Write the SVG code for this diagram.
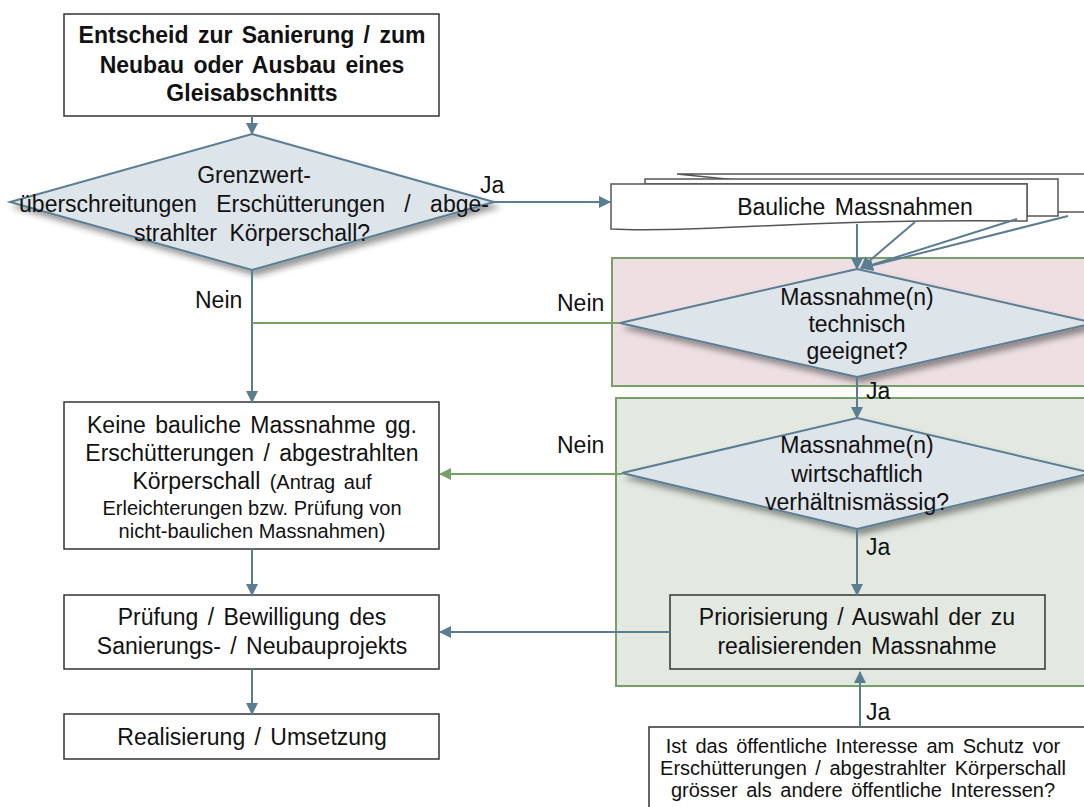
<svg xmlns="http://www.w3.org/2000/svg" width="1084" height="807" viewBox="0 0 1084 807">
<style>
text{font-family:"Liberation Sans",Arial,sans-serif;fill:#111;text-anchor:middle}
.b{font-weight:bold;font-size:23px;word-spacing:3px}
.m{font-size:23px;word-spacing:3px}
.s{font-size:20px}
.q{font-size:20px;word-spacing:3px}
.l{font-size:23px;text-anchor:start}
.box{fill:#fff;stroke:#333;stroke-width:1.5}
.dia{fill:#dde4ea;stroke:#5b7d92;stroke-width:2;filter:url(#sh)}
.ar{stroke:#5b7d92;stroke-width:2;fill:none;marker-end:url(#ab)}
.ln{stroke:#5b7d92;stroke-width:2;fill:none}
.gr{stroke:#76a068;stroke-width:2;fill:none}
.doc{fill:#fff;stroke:#555;stroke-width:1.5}
</style>
<defs>
<marker id="ab" viewBox="0 0 12 12" refX="11" refY="6" markerWidth="12" markerHeight="12" markerUnits="userSpaceOnUse" orient="auto">
<path d="M0,0 L12,6 L0,12 Z" fill="#5b7d92"/>
</marker>
<marker id="ag" viewBox="0 0 12 12" refX="11" refY="6" markerWidth="12" markerHeight="12" markerUnits="userSpaceOnUse" orient="auto">
<path d="M0,0 L12,6 L0,12 Z" fill="#76a068"/>
</marker>
<filter id="sh" x="-10%" y="-20%" width="130%" height="150%">
<feDropShadow dx="4" dy="5" stdDeviation="3" flood-color="#000" flood-opacity="0.4"/>
</filter>
</defs>

<g id="bg-technisch">
<rect x="612" y="258" width="480" height="128" fill="#eedfe3" stroke="#76a068" stroke-width="2"/>
</g>
<g id="bg-wirtschaftlich">
<rect x="616" y="398" width="476" height="288" fill="#e3e9e1" stroke="#76a068" stroke-width="2"/>
</g>

<g id="n-start">
<rect class="box" x="64" y="14" width="375" height="102"/>
<text class="b" x="252" y="43">Entscheid zur Sanierung / zum</text>
<text class="b" x="252" y="73">Neubau oder Ausbau eines</text>
<text class="b" x="252" y="101">Gleisabschnitts</text>
</g>

<g id="n-grenzwert">
<polygon class="dia" points="252,134 494,202 252,270 10,202"/>
<text class="m" x="254" y="183">Grenzwert-</text>
<text class="m" x="254" y="212" style="word-spacing:13px">überschreitungen Erschütterungen / abge-</text>
<text class="m" x="252" y="241" style="word-spacing:6px">strahlter Körperschall?</text>
</g>

<g id="n-bauliche">
<path class="doc" d="M677,174 H1092 V212 H1058 Z"/>
<path class="doc" d="M645,179 H1058 V216 H1027 V184 H645 Z"/>
<path class="doc" d="M611,184 H1027 V221 C930,220 840,222 760,226 C700,229 650,231 611,229 Z"/>
<text class="m" x="855" y="215">Bauliche Massnahmen</text>
</g>

<g id="n-technisch">
<polygon class="dia" points="857,269 1094,323 857,377 620,323"/>
<text class="m" x="857" y="305">Massnahme(n)</text>
<text class="m" x="857" y="332">technisch</text>
<text class="m" x="857" y="359">geeignet?</text>
</g>

<g id="n-wirtschaftlich">
<polygon class="dia" points="857,418 1092,473 857,529 622,473"/>
<text class="m" x="857" y="453">Massnahme(n)</text>
<text class="m" x="857" y="482">wirtschaftlich</text>
<text class="m" x="857" y="510">verhältnismässig?</text>
</g>

<g id="n-priorisierung">
<rect x="670" y="595" width="375" height="74" fill="#e3e9e1" stroke="#333" stroke-width="1.5"/>
<text class="m" x="857" y="625">Priorisierung / Auswahl der zu</text>
<text class="m" x="857" y="654">realisierenden Massnahme</text>
</g>

<g id="n-keine">
<rect class="box" x="64" y="402" width="375" height="147"/>
<text class="m" x="252" y="433">Keine bauliche Massnahme gg.</text>
<text class="m" x="252" y="461">Erschütterungen / abgestrahlten</text>
<text class="m" x="252" y="489">Körperschall <tspan class="s">(Antrag auf</tspan></text>
<text class="s" x="252" y="515">Erleichterungen bzw. Prüfung von</text>
<text class="s" x="252" y="538">nicht-baulichen Massnahmen)</text>
</g>

<g id="n-pruefung">
<rect class="box" x="64" y="595" width="375" height="74"/>
<text class="m" x="252" y="625">Prüfung / Bewilligung des</text>
<text class="m" x="252" y="654">Sanierungs- / Neubauprojekts</text>
</g>

<g id="n-realisierung">
<rect class="box" x="64" y="714" width="375" height="45"/>
<text class="m" x="252" y="745">Realisierung / Umsetzung</text>
</g>

<g id="n-interesse">
<rect class="box" x="649" y="727" width="445" height="100"/>
<text class="q" x="863" y="753">Ist das öffentliche Interesse am Schutz vor</text>
<text class="q" x="863" y="775">Erschütterungen / abgestrahlter Körperschall</text>
<text class="q" x="863" y="797">grösser als andere öffentliche Interessen?</text>
</g>

<g id="connectors">
<line class="ar" x1="252" y1="116" x2="252" y2="134"/>
<line class="ar" x1="494" y1="202" x2="610" y2="202"/>
<line class="ar" x1="252" y1="270" x2="252" y2="402"/>
<line class="gr" x1="252" y1="323" x2="620" y2="323"/>
<line class="ar" x1="857" y1="224" x2="857" y2="269"/>
<line class="ar" x1="915" y1="222" x2="861" y2="268"/>
<line class="ar" x1="1017" y1="219" x2="862" y2="268"/>
<line class="ar" x1="1068" y1="216" x2="862" y2="268"/>
<line class="ar" x1="857" y1="377" x2="857" y2="418"/>
<line class="gr" x1="622" y1="474" x2="440" y2="474" marker-end="url(#ag)"/>
<line class="ar" x1="857" y1="529" x2="857" y2="595"/>
<line class="ar" x1="670" y1="632" x2="440" y2="632"/>
<line class="ar" x1="252" y1="549" x2="252" y2="595"/>
<line class="ar" x1="252" y1="669" x2="252" y2="714"/>
<line class="ar" x1="860" y1="727" x2="860" y2="672"/>
<text class="l" x="480" y="193">Ja</text>
<text class="l" x="195" y="308">Nein</text>
<text class="l" x="557" y="311">Nein</text>
<text class="l" x="866" y="399">Ja</text>
<text class="l" x="557" y="453">Nein</text>
<text class="l" x="866" y="555">Ja</text>
<text class="l" x="866" y="720">Ja</text>
</g>
</svg>
